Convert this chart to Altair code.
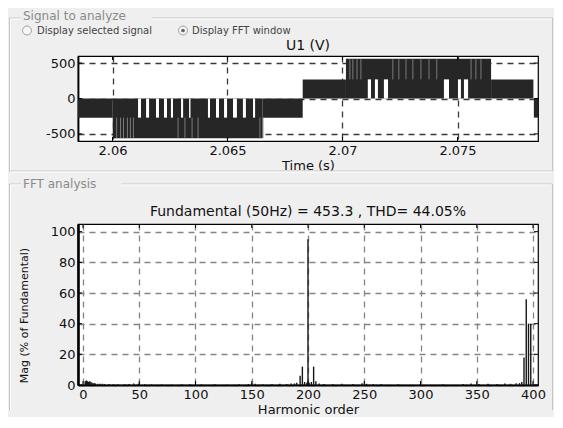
import altair as alt
import pandas as pd

# ---------------- data: top panel (U1 waveform as switching bands) -------------
band_t0 = [2.0585, 2.06001, 2.06653, 2.06827, 2.07015, 2.07646, 2.07832]
band_t1 = [2.06001, 2.06653, 2.06827, 2.07015, 2.07646, 2.07830, 2.0785]
band_lo = [-270, -560, -270, 0, 0, 0, -270]
band_hi = [0, 0, 0, 270, 560, 270, 0]

# white slots in the inner band (signal stays at the outer level there)
gap_t0 = [2.06111, 2.06146, 2.06189, 2.06224, 2.06254, 2.06298, 2.06333, 2.06415,
          2.06450, 2.06485, 2.06524, 2.06567, 2.06611,
          2.07110, 2.07141, 2.07180, 2.07441, 2.07502, 2.07528]
gap_t1 = [2.06124, 2.06159, 2.06202, 2.06237, 2.06263, 2.06307, 2.06339, 2.06424,
          2.06463, 2.06498, 2.06541, 2.06580, 2.06620,
          2.07124, 2.07154, 2.07198, 2.07463, 2.07515, 2.07546]
gap_lo = [-270] * 13 + [0] * 6
gap_hi = [0] * 13 + [270] * 6

# lighter streaks inside the dark switching bands
streak_t = [2.06018, 2.06035, 2.06048, 2.06065, 2.06078, 2.06091, 2.06285, 2.06315,
            2.06346, 2.06372, 2.06641, 2.06654,
            2.07032, 2.07045, 2.07063, 2.07080, 2.07219, 2.07245, 2.07276, 2.07306,
            2.07341, 2.07376, 2.07410, 2.07559, 2.07580, 2.07602]
streak_lo = [-560] * 12 + [270] * 14
streak_hi = [-270] * 12 + [560] * 14

top_xticks = [2.06, 2.065, 2.07, 2.075]
top_yticks = [-500, 0, 500]

# ---------------- data: bottom panel (FFT magnitudes) -------------
harm = [2, 3, 4, 5, 6, 7, 8, 9, 10, 11, 13, 15, 17, 19, 23, 27, 31, 37, 41, 45, 49,
        55, 61, 70, 79, 88, 95, 105, 117, 128, 139, 147, 150, 153, 160, 168, 175, 181,
        185, 188, 190, 193, 195, 197, 199, 200, 201, 203, 205, 207, 210, 214, 222, 230,
        240, 248, 252, 258, 265, 280, 300, 320, 338, 345, 352, 360, 368, 375, 380, 385,
        388, 390, 392, 394, 396, 398]
mag = [2.5, 3, 2.5, 2, 2.5, 2, 1.5, 1.2, 1.2, 1, 0.8, 0.8, 0.8, 0.7, 0.6, 0.5, 0.5,
       0.5, 0.6, 1, 0.8, 0.5, 0.4, 0.5, 0.4, 0.5, 0.5, 0.4, 0.5, 0.4, 0.5, 0.6, 1, 0.8,
       0.5, 0.6, 0.8, 0.7, 1, 1, 1.5, 6, 12, 2, 1.5, 95, 1.5, 2, 12, 2.5, 1, 0.7, 0.6,
       0.8, 0.7, 1.2, 0.8, 0.6, 0.6, 0.5, 0.6, 0.5, 0.6, 1, 0.6, 0.8, 0.7, 1, 0.8, 1.2,
       1.2, 2, 18, 56, 40, 40]

fft_xticks = [0, 50, 100, 150, 200, 250, 300, 350, 400]
fft_yticks = [0, 20, 40, 60, 80, 100]

top_title = "U1 (V)"
fft_title = "Fundamental (50Hz) = 453.3 , THD= 44.05%"

# ---------------- layout constants -------------
W, H1, H2, GAP = 460, 85, 161, 83
BG = "#efefef"
FONT = "DejaVu Sans"
LFT, TOP = -68.5, -45.5        # extreme left / top of the drawing, relative to top plot
one = pd.DataFrame({"a": [0]})


def prule(x1, y1, x2, y2, color, w=1.0):
    return alt.Chart(one).mark_rule(color=color, strokeWidth=w).encode(
        x=alt.value(x1), y=alt.value(y1), x2=alt.value(x2), y2=alt.value(y2))


def ptext(txt, x, y, size=13, color="#111", align="center", baseline="middle", font=FONT):
    return alt.Chart(one).mark_text(text=txt, fontSize=size, color=color, align=align,
                                    baseline=baseline, font=font).encode(
        x=alt.value(x), y=alt.value(y))


def groupbox(top, bottom, label_end, with_bottom):
    L, R = LFT, 474.5
    parts = [
        prule(L, top, L, bottom, "#c4c4c4"), prule(L + 1, top + 1, L + 1, bottom, "#ffffff"),
        prule(R, top, R, bottom, "#c4c4c4"),
        prule(L, top, -57, top, "#c4c4c4"), prule(L + 1, top + 1, -57, top + 1, "#ffffff"),
        prule(label_end, top, R, top, "#c4c4c4"), prule(label_end, top + 1, R - 1, top + 1, "#ffffff"),
    ]
    if with_bottom:
        parts += [prule(L, bottom, R, bottom, "#c4c4c4"), prule(L + 1, bottom + 1, R, bottom + 1, "#ffffff")]
    return parts


def axis(values, title=None, grid_color="#3a3a3a", title_size=13, dom_w=1.2, **kw):
    return alt.Axis(values=values, title=title, grid=True, gridDash=[6, 5], gridColor=grid_color,
                    gridWidth=1.3, ticks=False, domain=True, domainColor="#000", domainWidth=dom_w,
                    labelFont=FONT, labelFontSize=13,
                    labelColor="#111", labelPadding=3, labelExpr="'' + datum.value",
                    titleFont=FONT, titleFontSize=title_size, titleColor="#111",
                    titleFontWeight="normal", **kw)


# ---------------- top chart -------------
xs1 = alt.Scale(domain=[2.0585, 2.0785], nice=False, zero=False)
ys1 = alt.Scale(domain=[-600, 600], nice=False, zero=False)
AX1x = axis(top_xticks, "Time (s)", titleY=24, titleBaseline="middle")
AX1y = axis(top_yticks, dom_w=1.8)

bands = pd.DataFrame({"t0": band_t0, "t1": band_t1, "lo": band_lo, "hi": band_hi})
gaps = pd.DataFrame({"t0": gap_t0, "t1": gap_t1, "lo": gap_lo, "hi": gap_hi})
streaks = pd.DataFrame({"t0": streak_t, "lo": streak_lo, "hi": streak_hi})
xt1 = pd.DataFrame({"t0": top_xticks})
yt1 = pd.DataFrame({"lo": top_yticks})

band_layer = alt.Chart(bands).mark_rect(color="#262626").encode(
    x=alt.X("t0:Q", scale=xs1, axis=AX1x), x2="t1:Q",
    y=alt.Y("lo:Q", scale=ys1, axis=AX1y), y2="hi:Q")
gap_layer = alt.Chart(gaps).mark_rect(color="#ffffff").encode(
    x=alt.X("t0:Q", scale=xs1, axis=AX1x), x2="t1:Q",
    y=alt.Y("lo:Q", scale=ys1, axis=AX1y), y2="hi:Q")
streak_layer = alt.Chart(streaks).mark_rule(color="#7a7a7a", strokeWidth=1).encode(
    x=alt.X("t0:Q", scale=xs1, axis=AX1x),
    y=alt.Y("lo:Q", scale=ys1, axis=AX1y), y2="hi:Q")
xtick_top1 = alt.Chart(xt1).mark_rule(color="#000").encode(
    x=alt.X("t0:Q", scale=xs1, axis=AX1x), y=alt.value(0), y2=alt.value(4))
xtick_bot1 = alt.Chart(xt1).mark_rule(color="#000").encode(
    x=alt.X("t0:Q", scale=xs1, axis=AX1x), y=alt.value(H1 - 4), y2=alt.value(H1))
ytick_l1 = alt.Chart(yt1).mark_rule(color="#000").encode(
    y=alt.Y("lo:Q", scale=ys1, axis=AX1y), x=alt.value(0), x2=alt.value(4))
ytick_r1 = alt.Chart(yt1).mark_rule(color="#000").encode(
    y=alt.Y("lo:Q", scale=ys1, axis=AX1y), x=alt.value(W - 4), x2=alt.value(W))

radio = dict(shape="circle", size=80, filled=True, fill="#f7f7f7", stroke="#a0a0a0",
             strokeWidth=1, opacity=1)
top_layers = [band_layer, gap_layer, streak_layer, xtick_top1, xtick_bot1, ytick_l1, ytick_r1,
              prule(LFT, TOP, LFT + 8, TOP, BG),
              ptext("Signal to analyze", -55, TOP, size=12, color="#8a8a8a", align="left", baseline="top"),
              alt.Chart(one).mark_point(**radio).encode(x=alt.value(-51), y=alt.value(-25.5)),
              alt.Chart(one).mark_point(**radio).encode(x=alt.value(105), y=alt.value(-25.5)),
              alt.Chart(one).mark_point(shape="circle", size=14, filled=True, color="#666", opacity=1).encode(
                  x=alt.value(105), y=alt.value(-25.5)),
              ptext("Display selected signal", -41, -25.5, size=10, color="#444", align="left"),
              ptext("Display FFT window", 114, -25.5, size=10, color="#444", align="left"),
              ptext(top_title, W / 2, -10, size=14)]
top_layers += groupbox(-38, 115, 74, True)

top = alt.layer(*top_layers).properties(width=W, height=H1)

# ---------------- bottom chart -------------
xs2 = alt.Scale(domain=[0, 400], nice=False, zero=False)
ys2 = alt.Scale(domain=[0, 105], nice=False, zero=False)
AX2x = axis(fft_xticks, "Harmonic order", grid_color="#858585", dom_w=1.8,
            titleY=24, titleBaseline="middle")
AX2y = axis(fft_yticks, "Mag (% of Fundamental)", grid_color="#858585", title_size=11, dom_w=2.6,
            titleX=-54, titleY=91, titleAngle=270, titleAlign="center", titleBaseline="middle")
fft = pd.DataFrame({"h": harm, "m": mag})
xt2 = pd.DataFrame({"h": fft_xticks})
yt2 = pd.DataFrame({"m": fft_yticks})

bar_layer = alt.Chart(fft).mark_bar(size=1.4, color="#151515").encode(
    x=alt.X("h:Q", scale=xs2, axis=AX2x),
    y=alt.Y("m:Q", scale=ys2, axis=AX2y))
xtick_top2 = alt.Chart(xt2).mark_rule(color="#000").encode(
    x=alt.X("h:Q", scale=xs2, axis=AX2x), y=alt.value(0), y2=alt.value(4))
xtick_bot2 = alt.Chart(xt2).mark_rule(color="#000").encode(
    x=alt.X("h:Q", scale=xs2, axis=AX2x), y=alt.value(H2 - 4), y2=alt.value(H2))
ytick_l2 = alt.Chart(yt2).mark_rule(color="#000").encode(
    y=alt.Y("m:Q", scale=ys2, axis=AX2y), x=alt.value(0), x2=alt.value(4))
ytick_r2 = alt.Chart(yt2).mark_rule(color="#000").encode(
    y=alt.Y("m:Q", scale=ys2, axis=AX2y), x=alt.value(W - 4), x2=alt.value(W))

bot_layers = [bar_layer, xtick_top2, xtick_bot2, ytick_l2, ytick_r2,
              ptext("FFT analysis", -55, -40, size=12, color="#8a8a8a", align="left"),
              ptext(fft_title, W / 2, -12, size=14)]
bot_layers += groupbox(-40, 186, 43, False)

bottom = alt.layer(*bot_layers).properties(width=W, height=H2)

chart = alt.vconcat(top, bottom, spacing=GAP, bounds="flush").properties(
    padding=0, background=BG
).configure_view(stroke="#000", strokeWidth=1.2, fill="#ffffff")

chart.save("out.html", embed_options={"renderer": "svg", "actions": False})
